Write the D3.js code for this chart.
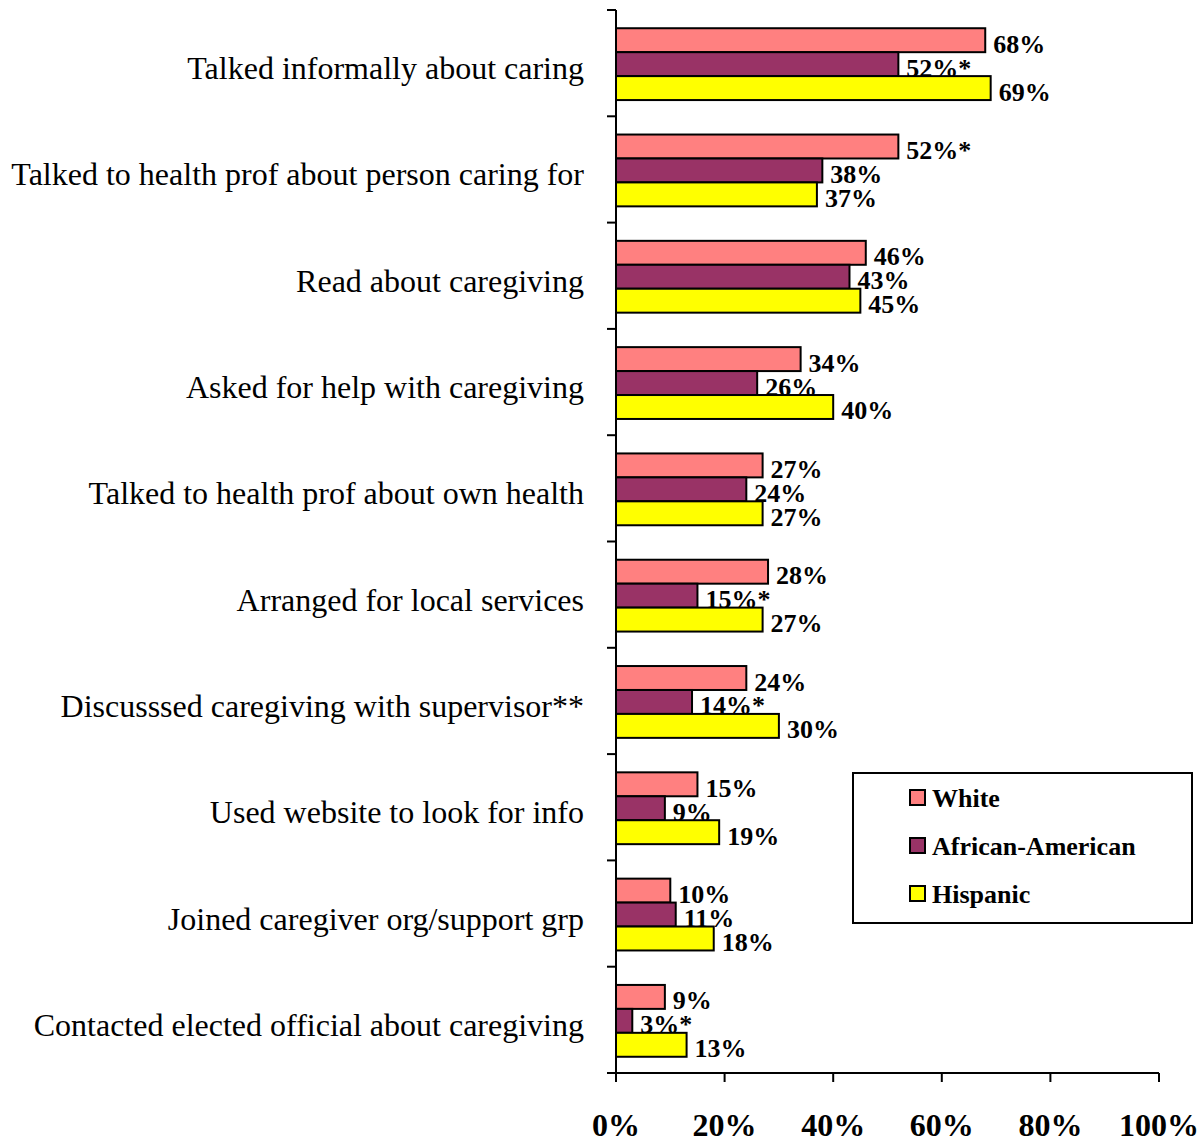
<!DOCTYPE html>
<html>
<head>
<meta charset="utf-8">
<script src="https://cdn.jsdelivr.net/npm/d3@7/dist/d3.min.js"></script>
<style>
  html, body { margin: 0; padding: 0; background: #fff; }
  svg { display: block; }
  text { font-family: "Liberation Serif", "Times New Roman", serif; fill: #000; }
</style>
</head>
<body>
<svg id="chart" width="1201" height="1141"></svg>
<script>
// Caregiving activities by race/ethnicity (percent of caregivers)
const categories = [
  "Talked informally about caring",
  "Talked to health prof about person caring for",
  "Read about caregiving",
  "Asked for help with caregiving",
  "Talked to health prof about own health",
  "Arranged for local services",
  "Discusssed caregiving with supervisor**",
  "Used website to look for info",
  "Joined caregiver org/support grp",
  "Contacted elected official about caregiving"
];
const seriesNames = ["White", "African-American", "Hispanic"];
const seriesColors = ["#FF8080", "#993366", "#FFFF00"];

const whiteValues    = [68, 52, 46, 34, 27, 28, 24, 15, 10, 9];
const africanValues  = [52, 38, 43, 26, 24, 15, 14, 9, 11, 3];
const hispanicValues = [69, 37, 45, 40, 27, 27, 30, 19, 18, 13];

// significance markers appended to the value labels
const whiteMarks    = ["", "*", "", "", "", "", "", "", "", ""];
const africanMarks  = ["*", "", "", "", "", "*", "*", "", "", "*"];
const hispanicMarks = ["", "", "", "", "", "", "", "", "", ""];

const xTicks = [0, 20, 40, 60, 80, 100];

const seriesValues = [whiteValues, africanValues, hispanicValues];
const seriesMarks = [whiteMarks, africanMarks, hispanicMarks];

const svg = d3.select("#chart");
const plot = { left: 616, right: 1159, top: 10, bottom: 1073 };

const x = d3.scaleLinear().domain([0, 100]).range([plot.left, plot.right]);
const y = d3.scaleBand().domain(categories).range([plot.top, plot.bottom]).padding(0);
const ySub = d3.scaleBand().domain(seriesNames).range([0, y.bandwidth()])
  .paddingInner(0).paddingOuter(0.72);

// category axis line with ticks at band boundaries
const yAxisG = svg.append("g");
yAxisG.append("line")
  .attr("x1", plot.left).attr("x2", plot.left)
  .attr("y1", plot.top).attr("y2", plot.bottom)
  .attr("stroke", "#000").attr("stroke-width", 2);
const boundaries = categories.map(c => y(c)).concat([plot.bottom]);
yAxisG.selectAll("line.tick").data(boundaries).join("line")
  .attr("class", "tick")
  .attr("x1", plot.left - 9).attr("x2", plot.left)
  .attr("y1", d => d).attr("y2", d => d)
  .attr("stroke", "#000").attr("stroke-width", 2);

// category labels
svg.append("g").selectAll("text").data(categories).join("text")
  .attr("x", 584)
  .attr("y", c => y(c) + y.bandwidth() / 2 + 16)
  .attr("text-anchor", "end")
  .style("font-size", "32px")
  .text(c => c);

// bars and value labels, series by series
seriesNames.forEach((s, si) => {
  const g = svg.append("g");
  const vals = seriesValues[si];
  g.selectAll("rect").data(categories).join("rect")
    .attr("x", x(0))
    .attr("y", c => y(c) + ySub(s) + 1)
    .attr("width", (c, i) => x(vals[i]) - x(0))
    .attr("height", ySub.bandwidth())
    .attr("fill", seriesColors[si])
    .attr("stroke", "#000")
    .attr("stroke-width", 2);
  g.selectAll("text").data(categories).join("text")
    .attr("x", (c, i) => x(vals[i]) + 8)
    .attr("y", c => y(c) + ySub(s) + 1 + ySub.bandwidth() / 2 + 12.5)
    .style("font-size", "26px")
    .style("font-weight", "bold")
    .text((c, i) => vals[i] + "%" + seriesMarks[si][i]);
});

// value axis
const xAxisG = svg.append("g").attr("transform", `translate(0,${plot.bottom})`);
xAxisG.append("line")
  .attr("x1", plot.left - 9).attr("x2", plot.right)
  .attr("stroke", "#000").attr("stroke-width", 2);
xAxisG.selectAll("line.tick").data(xTicks).join("line")
  .attr("class", "tick")
  .attr("x1", d => x(d)).attr("x2", d => x(d))
  .attr("y1", 0).attr("y2", 9)
  .attr("stroke", "#000").attr("stroke-width", 2);
xAxisG.selectAll("text").data(xTicks).join("text")
  .attr("x", d => x(d))
  .attr("y", 63)
  .attr("text-anchor", "middle")
  .style("font-size", "32px")
  .style("font-weight", "bold")
  .text(d => d + "%");

// legend
const legend = svg.append("g").attr("transform", "translate(853,773)");
legend.append("rect")
  .attr("width", 339).attr("height", 150)
  .attr("fill", "#fff").attr("stroke", "#000").attr("stroke-width", 2);
seriesNames.forEach((s, i) => {
  const cy = 25 + i * 48;
  legend.append("rect")
    .attr("x", 57).attr("y", cy - 8).attr("width", 15).attr("height", 15)
    .attr("fill", seriesColors[i]).attr("stroke", "#000").attr("stroke-width", 2);
  legend.append("text")
    .attr("x", 79).attr("y", cy + 9)
    .style("font-size", "26px")
    .style("font-weight", "bold")
    .text(s);
});
</script>
</body>
</html>
